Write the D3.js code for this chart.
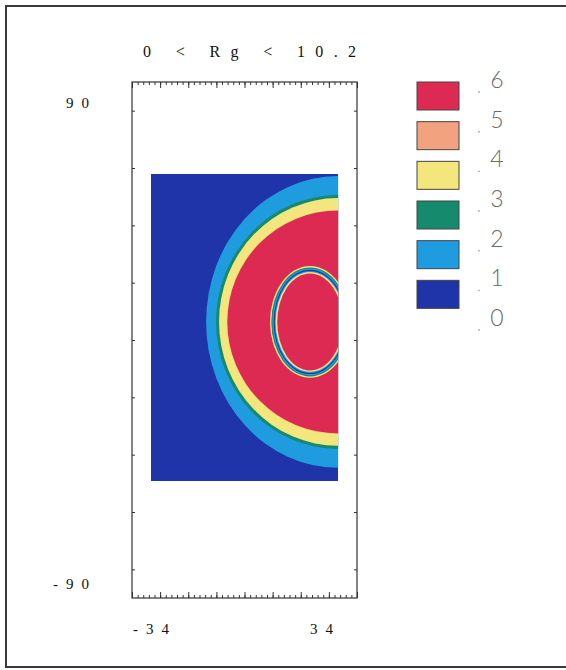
<!DOCTYPE html>
<html><head><meta charset="utf-8">
<script src="https://cdn.jsdelivr.net/npm/d3@7"></script>
<style>body{margin:0;background:#fff}</style></head>
<body>
<svg id="c" width="566" height="670"></svg>
<script>
// ---------- data ----------
const title = "0 < Rg < 10.2";
const xDomain = [-34, 34];
const yDomain = [-90, 90];
const xTickLabels = [-34, 34];
const yTickLabels = [90, -90];
const xMajorStep = 8.5;
const xMinorStep = 1.7;
const yTickValues = [-80, -60, -40, -20, 0, 20, 40, 60, 80];
const legendLevels = [6, 5, 4, 3, 2, 1, 0];
const bandNames = ["0-1", "1-2", "2-3", "3-4", "4-5", "5-6"];
const bandColors = ["#1f34a8", "#1f9ce0", "#168a6c", "#f3e67c", "#f2a27e", "#dc2a52"];
const imageX = [-28.3, 28.3];
const imageY = [-49.2, 57.9];
// outer contour bands (band index, centre, semi-axes) in data units
const outerBand = [1, 2, 3, 5];
const outerCx = [28.3, 28.3, 28.3, 28.3];
const outerCy = [6.3, 6.3, 6.3, 6.3];
const outerRx = [39.9, 36.9, 36.0, 33.5];
const outerRy = [50.9, 44.3, 43.2, 38.9];
// inner ring bands
const ringBand = [3, 2, 1, 0, 1, 3, 5];
const ringCx = [19.8, 19.8, 19.8, 19.8, 19.8, 19.8, 19.8];
const ringCy = [6.3, 6.3, 6.3, 6.3, 6.3, 6.3, 6.3];
const ringRx = [12.1, 11.7, 11.4, 11.0, 10.7, 10.4, 9.9];
const ringRy = [19.5, 19.0, 18.6, 18.2, 17.8, 17.4, 16.9];

// ---------- layout ----------
const svg = d3.select("#c");
const P = {l: 132, r: 357, t: 82, b: 598};
const x = d3.scaleLinear().domain(xDomain).range([P.l, P.r]);
const y = d3.scaleLinear().domain(yDomain).range([P.b, P.t]);

// outer frame
svg.append("rect").attr("x", 6).attr("y", 6).attr("width", 600).attr("height", 661)
  .attr("fill", "none").attr("stroke", "#3a3a3a").attr("stroke-width", 2);

// image
const defs = svg.append("defs");
defs.append("clipPath").attr("id", "imgclip").append("rect")
  .attr("x", x(imageX[0])).attr("y", y(imageY[1]))
  .attr("width", x(imageX[1]) - x(imageX[0])).attr("height", y(imageY[0]) - y(imageY[1]));
const img = svg.append("g").attr("clip-path", "url(#imgclip)");
img.append("rect")
  .attr("x", x(imageX[0])).attr("y", y(imageY[1]))
  .attr("width", x(imageX[1]) - x(imageX[0])).attr("height", y(imageY[0]) - y(imageY[1]))
  .attr("fill", bandColors[0]);
const sx = v => x(v) - x(0), sy = v => y(0) - y(v);
function ellipses(band, cx, cy, rx, ry) {
  img.selectAll(null).data(band.map((b, i) => ({b, cx: cx[i], cy: cy[i], rx: rx[i], ry: ry[i]})))
    .join("ellipse")
    .attr("cx", d => x(d.cx)).attr("cy", d => y(d.cy))
    .attr("rx", d => sx(d.rx)).attr("ry", d => sy(d.ry))
    .attr("fill", d => bandColors[d.b]);
}
ellipses(outerBand, outerCx, outerCy, outerRx, outerRy);
ellipses(ringBand, ringCx, ringCy, ringRx, ringRy);

// axes
const axColor = "#333";
function styleAxis(g) {
  g.select(".domain").remove();
  g.selectAll("line").attr("stroke", axColor);
  g.selectAll("text").remove();
}
const minorX = d3.range(xDomain[0], xDomain[1] + 0.001, xMinorStep);
const majorX = d3.range(xDomain[0], xDomain[1] + 0.001, xMajorStep);
svg.append("g").attr("transform", `translate(0,${P.t})`)
  .call(d3.axisBottom(x).tickValues(minorX).tickSize(3)).call(styleAxis);
svg.append("g").attr("transform", `translate(0,${P.t})`)
  .call(d3.axisBottom(x).tickValues(majorX).tickSize(6)).call(styleAxis);
svg.append("g").attr("transform", `translate(0,${P.b})`)
  .call(d3.axisTop(x).tickValues(minorX).tickSize(3)).call(styleAxis);
svg.append("g").attr("transform", `translate(0,${P.b})`)
  .call(d3.axisTop(x).tickValues(majorX).tickSize(6)).call(styleAxis);
svg.append("g").attr("transform", `translate(${P.l},0)`)
  .call(d3.axisRight(y).tickValues(yTickValues).tickSize(3)).call(styleAxis);
svg.append("g").attr("transform", `translate(${P.r},0)`)
  .call(d3.axisLeft(y).tickValues(yTickValues).tickSize(3)).call(styleAxis);
svg.append("rect").attr("x", P.l).attr("y", P.t).attr("width", P.r - P.l).attr("height", P.b - P.t)
  .attr("fill", "none").attr("stroke", axColor).attr("stroke-width", 1.2);

// labels
const serif = "'Liberation Serif', 'DejaVu Serif', serif";
svg.append("text").attr("x", 143).attr("y", 57).text(title)
  .attr("font-family", serif).attr("font-size", 16).attr("fill", "#111")
  .attr("textLength", 213).attr("lengthAdjust", "spacing");
svg.append("text").attr("x", x(xTickLabels[0]) + 1).attr("y", 634).text(xTickLabels[0])
  .attr("font-family", serif).attr("font-size", 15).attr("fill", "#111").attr("letter-spacing", 8);
svg.append("text").attr("x", x(xTickLabels[1]) - 47).attr("y", 634).text(xTickLabels[1])
  .attr("font-family", serif).attr("font-size", 15).attr("fill", "#111").attr("letter-spacing", 8);
svg.append("text").attr("x", 97).attr("y", 108).text(yTickLabels[0]).attr("text-anchor", "end")
  .attr("font-family", serif).attr("font-size", 15).attr("fill", "#111").attr("letter-spacing", 8);
svg.append("text").attr("x", 97).attr("y", 589).text(yTickLabels[1]).attr("text-anchor", "end")
  .attr("font-family", serif).attr("font-size", 15).attr("fill", "#111").attr("letter-spacing", 8);

// legend
const lg = svg.append("g");
const boxBands = legendLevels.slice(0, 6).map(l => l - 1); // band under each upper level
const ly = d3.scaleLinear().domain([6, 0]).range([80, 318]);
lg.selectAll("rect").data(boxBands).join("rect")
  .attr("x", 417).attr("y", d => ly(d + 1) + 2).attr("width", 42).attr("height", 28)
  .attr("fill", d => bandColors[d]).attr("stroke", "#444").attr("stroke-width", 1);
lg.selectAll("text").data(legendLevels).join("text")
  .attr("x", 497).attr("y", d => ly(d) + 8).attr("text-anchor", "middle").text(d => d)
  .attr("font-family", "Lato, 'Open Sans', sans-serif").attr("font-weight", 300)
  .attr("font-size", 23).attr("fill", "#6a6a6a");
lg.selectAll("circle").data(legendLevels).join("circle")
  .attr("cx", 479).attr("cy", d => ly(d) + 12).attr("r", 0.9).attr("fill", "#aaa");
</script>
</body></html>
